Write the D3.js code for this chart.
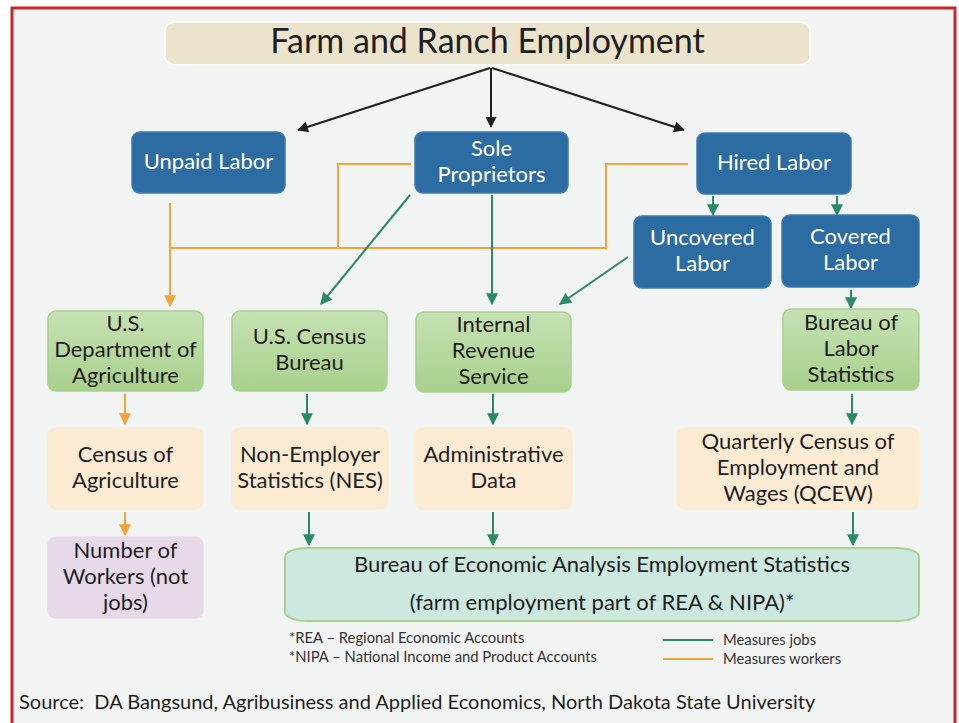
<!DOCTYPE html>
<html>
<head>
<meta charset="utf-8">
<script src="https://cdn.jsdelivr.net/npm/d3@7"></script>
<style>
  body { margin: 0; background: #ffffff; }
  svg { display: block; font-family: Lato, "Open Sans", sans-serif; }
  text { white-space: pre; }
</style>
</head>
<body>
<script>
// nodes of the flow chart
const nodeIds = ["title", "unpaid", "sole", "hired", "uncovered", "covered",
    "usda", "census", "irs", "bls", "coa", "nes", "admin", "qcew", "workers", "bea"]
const nodeLabels = [
    ["Farm and Ranch Employment"],
    ["Unpaid Labor"],
    ["Sole", "Proprietors"],
    ["Hired Labor"],
    ["Uncovered", "Labor"],
    ["Covered", "Labor"],
    ["U.S.", "Department of", "Agriculture"],
    ["U.S. Census", "Bureau"],
    ["Internal", "Revenue", "Service"],
    ["Bureau of", "Labor", "Statistics"],
    ["Census of", "Agriculture"],
    ["Non-Employer", "Statistics (NES)"],
    ["Administrative", "Data"],
    ["Quarterly Census of", "Employment and", "Wages (QCEW)"],
    ["Number of", "Workers (not", "jobs)"],
    ["Bureau of Economic Analysis Employment Statistics", "(farm employment part of REA & NIPA)*"]
]
const nodeKinds = ["title", "labor", "labor", "labor", "labor", "labor",
    "agency", "agency", "agency", "agency", "source", "source", "source", "source", "workers", "bea"]

// links: [from, to, what it measures]
const links = [
    ["title", "unpaid", "root"],
    ["title", "sole", "root"],
    ["title", "hired", "root"],
    ["unpaid", "usda", "workers"],
    ["sole", "usda", "workers"],
    ["hired", "usda", "workers"],
    ["sole", "census", "jobs"],
    ["sole", "irs", "jobs"],
    ["hired", "uncovered", "jobs"],
    ["hired", "covered", "jobs"],
    ["uncovered", "irs", "jobs"],
    ["covered", "bls", "jobs"],
    ["usda", "coa", "workers"],
    ["census", "nes", "jobs"],
    ["irs", "admin", "jobs"],
    ["bls", "qcew", "jobs"],
    ["coa", "workers", "workers"],
    ["nes", "bea", "jobs"],
    ["admin", "bea", "jobs"],
    ["qcew", "bea", "jobs"]
]

const footnotes = ["*REA \u2013 Regional Economic Accounts", "*NIPA \u2013 National Income and Product Accounts"]
const legendKeys = ["jobs", "workers"]
const legendLabels = ["Measures jobs", "Measures workers"]
const sourceText = "Source:  DA Bangsund, Agribusiness and Applied Economics, North Dakota State University"

// ---- layout (box edges in page pixels) ----
const width = 959
const height = 723
const boxes = {
    title: [165, 22, 810, 65],
    unpaid: [132, 132, 285, 193],
    sole: [415, 132, 568, 193],
    hired: [697, 133, 851, 194],
    uncovered: [634, 216, 771, 288],
    covered: [782, 215, 919, 287],
    usda: [48, 311, 203, 391],
    census: [232, 311, 387, 391],
    irs: [416, 312, 571, 392],
    bls: [783, 309, 919, 390],
    coa: [48, 428, 203, 509],
    nes: [232, 428, 388, 509],
    admin: [415, 428, 572, 509],
    qcew: [677, 428, 919, 509],
    workers: [48, 537, 203, 618],
    bea: [285, 548, 919, 621]
}
// routing of each link (points), same order as links
const routes = [
    [[490, 68], [298, 130]],
    [[491, 68], [491, 127]],
    [[492, 68], [684, 130]],
    [[170, 203], [170, 306]],
    [[411, 164], [338, 164], [338, 248], [170, 248]],
    [[688, 164], [606, 164], [606, 248], [338, 248]],
    [[410, 195], [321, 304]],
    [[492, 195], [492, 304]],
    [[713, 196], [713, 215]],
    [[837, 196], [837, 215]],
    [[628, 257], [560, 304]],
    [[851, 290], [851, 308]],
    [[125, 394], [125, 424]],
    [[307, 394], [307, 424]],
    [[493, 394], [493, 424]],
    [[852, 394], [852, 424]],
    [[125, 512], [125, 535]],
    [[309, 512], [309, 545]],
    [[493, 512], [493, 545]],
    [[853, 512], [853, 545]]
]
// which links end in an arrowhead (the bus pieces do not)
const hasHead = [1, 1, 1, 1, 0, 0, 1, 1, 1, 1, 1, 1, 1, 1, 1, 1, 1, 1, 1, 1]

const lineColor = d3.scaleOrdinal().domain(["root", "jobs", "workers"])
    .range(["#1f1f1f", "#2a8a64", "#f2a43a"])
const fillColor = d3.scaleOrdinal()
    .domain(["title", "labor", "agency", "source", "workers", "bea"])
    .range(["#ece3cd", "#2d6ca2", "url(#greenGrad)", "#fcebd3", "#e8d9ea", "#cce8df"])
const strokeColor = d3.scaleOrdinal()
    .domain(["title", "labor", "agency", "source", "workers", "bea"])
    .range(["#ffffff", "#3b7ab3", "#a9d18e", "#fcebd3", "#e8d9ea", "#a9d18e"])
const textColor = d3.scaleOrdinal()
    .domain(["title", "labor", "agency", "source", "workers", "bea"])
    .range(["#1e1e1e", "#ffffff", "#1e1e1e", "#1e1e1e", "#1e1e1e", "#1e1e1e"])
const fontSize = { title: 34, labor: 22, agency: 22, source: 22, workers: 22, bea: 22 }
const lineGap = { title: 0, labor: 26, agency: 26, source: 26, workers: 26, bea: 38 }

const svg = d3.select("body").append("svg")
    .attr("width", width).attr("height", height)

const defs = svg.append("defs")
const grad = defs.append("linearGradient").attr("id", "greenGrad")
    .attr("x1", 0).attr("y1", 0).attr("x2", 0).attr("y2", 1)
grad.append("stop").attr("offset", "0%").attr("stop-color", "#c6e1b3")
grad.append("stop").attr("offset", "100%").attr("stop-color", "#a8d08c")

// arrow markers for each link colour
lineColor.domain().forEach(k => {
    defs.append("marker")
        .attr("id", "head-" + k)
        .attr("viewBox", "0 0 10 10")
        .attr("refX", 9).attr("refY", 5)
        .attr("markerUnits", "userSpaceOnUse")
        .attr("markerWidth", k == "root" ? 13 : 12)
        .attr("markerHeight", k == "root" ? 11 : 12)
        .attr("orient", "auto")
        .append("path")
        .attr("d", "M0,0 L10,5 L0,10 Z")
        .attr("fill", lineColor(k))
})

// frame
svg.append("rect").attr("x", 0).attr("y", 0).attr("width", width).attr("height", height).attr("fill", "#ffffff")
svg.append("rect")
    .attr("x", 12).attr("y", 8).attr("width", 943).attr("height", 730)
    .attr("fill", "#f2f4f3").attr("stroke", "#c4282c").attr("stroke-width", 3)

const nodes = nodeIds.map((id, i) => ({ id, lines: nodeLabels[i], kind: nodeKinds[i], box: boxes[id] }))

// links first so boxes sit on top
const line = d3.line()
const linkG = svg.append("g")
linkG.selectAll("path")
    .data(links)
    .enter()
    .append("path")
    .attr("d", (d, i) => line(routes[i]))
    .attr("fill", "none")
    .attr("stroke", d => lineColor(d[2]))
    .attr("stroke-width", 2)
    .attr("marker-end", (d, i) => hasHead[i] ? "url(#head-" + d[2] + ")" : null)

// boxes
const nodeG = svg.append("g").selectAll("g")
    .data(nodes)
    .enter()
    .append("g")

nodeG.append("rect")
    .attr("x", d => d.box[0])
    .attr("y", d => d.box[1])
    .attr("width", d => d.box[2] - d.box[0])
    .attr("height", d => d.box[3] - d.box[1])
    .attr("rx", d => d.kind == "bea" ? 22 : d.kind == "title" ? 12 : 8)
    .attr("ry", d => d.kind == "bea" ? 9 : 8)
    .attr("fill", d => fillColor(d.kind))
    .attr("stroke", d => strokeColor(d.kind))
    .attr("stroke-width", d => d.kind == "bea" ? 2 : 1.5)

nodeG.each(function (d) {
    const g = d3.select(this)
    const cx = (d.box[0] + d.box[2]) / 2
    const cy = (d.box[1] + d.box[3]) / 2
    const n = d.lines.length
    const gap = lineGap[d.kind]
    const fs = fontSize[d.kind]
    g.selectAll("text")
        .data(d.lines)
        .enter()
        .append("text")
        .attr("x", cx)
        .attr("y", (t, j) => cy + (j - (n - 1) / 2) * gap + fs * 0.29)
        .attr("text-anchor", "middle")
        .attr("font-size", fs)
        .attr("fill", textColor(d.kind))
        .text(t => t)
})

// footnotes
svg.append("g").selectAll("text")
    .data(footnotes)
    .enter()
    .append("text")
    .attr("x", 289)
    .attr("y", (d, i) => 643 + i * 19)
    .attr("font-size", 14.8)
    .attr("fill", "#333333")
    .text(d => d)

// legend
const legend = svg.append("g").selectAll("g")
    .data(legendKeys)
    .enter()
    .append("g")
    .attr("transform", (d, i) => "translate(663," + (640 + i * 19) + ")")
legend.append("line")
    .attr("x1", 0).attr("x2", 50)
    .attr("stroke", d => lineColor(d))
    .attr("stroke-width", 2)
legend.append("text")
    .attr("x", 60).attr("y", 5)
    .attr("font-size", 14.8)
    .attr("fill", "#333333")
    .text((d, i) => legendLabels[i])

// source line
svg.append("text")
    .attr("x", 19).attr("y", 709)
    .attr("font-size", 20)
    .attr("fill", "#1e1e1e")
    .text(sourceText)
</script>
</body>
</html>
